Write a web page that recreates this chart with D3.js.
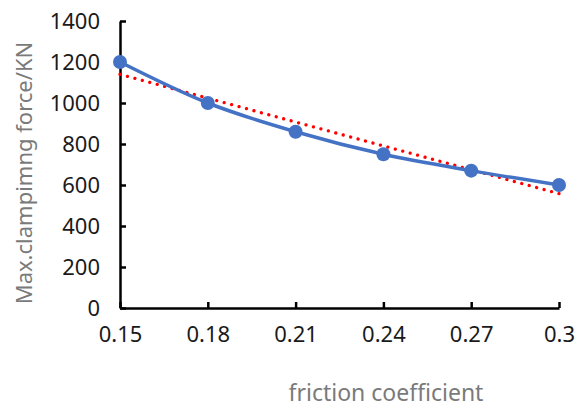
<!DOCTYPE html>
<html>
<head>
<meta charset="utf-8">
<script src="https://cdn.jsdelivr.net/npm/d3@7"></script>
<style>
  body { margin: 0; background: #fff; }
  text { font-family: "Noto Sans", sans-serif; }
</style>
</head>
<body>
<svg id="chart" width="585" height="410"></svg>
<script>
// values
let friction = [0.15, 0.18, 0.21, 0.24, 0.27, 0.3];
let force = [1200, 1000, 860, 750, 670, 600];
let trendX = [0.15, 0.3];
let trendY = [1140, 558];
let xTicks = [0.15, 0.18, 0.21, 0.24, 0.27, 0.3];
let yTicks = [0, 200, 400, 600, 800, 1000, 1200, 1400];

let chart = d3.select('#chart');

let xScale = d3.scaleLinear().domain([0.15, 0.3]).range([120, 559]);
let yScale = d3.scaleLinear().domain([0, 1400]).range([308, 21]);

// axes, ticks pointing inward
let xAxis = d3.axisBottom(xScale).tickValues(xTicks).tickSizeInner(-6).tickSizeOuter(0)
  .tickFormat(d => String(+d.toFixed(2)));
let yAxis = d3.axisLeft(yScale).tickValues(yTicks).tickSizeInner(-6).tickSizeOuter(0)
  .tickFormat(d3.format('d'));

let gx = chart.append('g').attr('transform', 'translate(0,308)').call(xAxis);
let gy = chart.append('g').attr('transform', 'translate(120,0)').call(yAxis);

[gx, gy].forEach(g => {
  g.select('.domain').attr('stroke', '#000').attr('stroke-width', 2.5);
  g.selectAll('.tick line').attr('stroke', '#000').attr('stroke-width', 2.5);
  g.selectAll('.tick text').attr('fill', '#1a1a1a').attr('font-size', 22)
    .style('font-family', '"Noto Sans", sans-serif');
});
gx.selectAll('.tick text').attr('y', 34).attr('dy', 0);
gy.selectAll('.tick text').attr('x', -20).attr('dy', '0.36em');

// trendline (dotted red)
let trendData = trendX.map((x, i) => ({x: x, y: trendY[i]}));
chart.append('path')
  .datum(trendData)
  .attr('fill', 'none')
  .attr('stroke', '#ff0000')
  .attr('stroke-width', 3.3)
  .attr('stroke-linecap', 'round')
  .attr('stroke-dasharray', '0.01,7.7')
  .attr('d', d3.line().x(d => xScale(d.x)).y(d => yScale(d.y)));

// smoothed series line
let pts = friction.map((x, i) => ({x: x, y: force[i]}));
chart.append('path')
  .datum(pts)
  .attr('fill', 'none')
  .attr('stroke', '#4472c4')
  .attr('stroke-width', 3.5)
  .attr('d', d3.line().curve(d3.curveCatmullRom.alpha(0.5))
    .x(d => xScale(d.x)).y(d => yScale(d.y)));

chart.selectAll('circle.pt')
  .data(pts)
  .enter().append('circle')
  .attr('class', 'pt')
  .attr('cx', d => xScale(d.x))
  .attr('cy', d => yScale(d.y))
  .attr('r', 7)
  .attr('fill', '#4472c4');

// axis titles
chart.append('text')
  .attr('transform', 'translate(32,173) rotate(-90)')
  .attr('text-anchor', 'middle')
  .attr('font-size', 22)
  .attr('fill', '#7a7a7a')
  .text('Max.clampimng force/KN');

chart.append('text')
  .attr('x', 386)
  .attr('y', 401)
  .attr('text-anchor', 'middle')
  .attr('font-size', 23)
  .attr('fill', '#7a7a7a')
  .text('friction coefficient');
</script>
</body>
</html>
